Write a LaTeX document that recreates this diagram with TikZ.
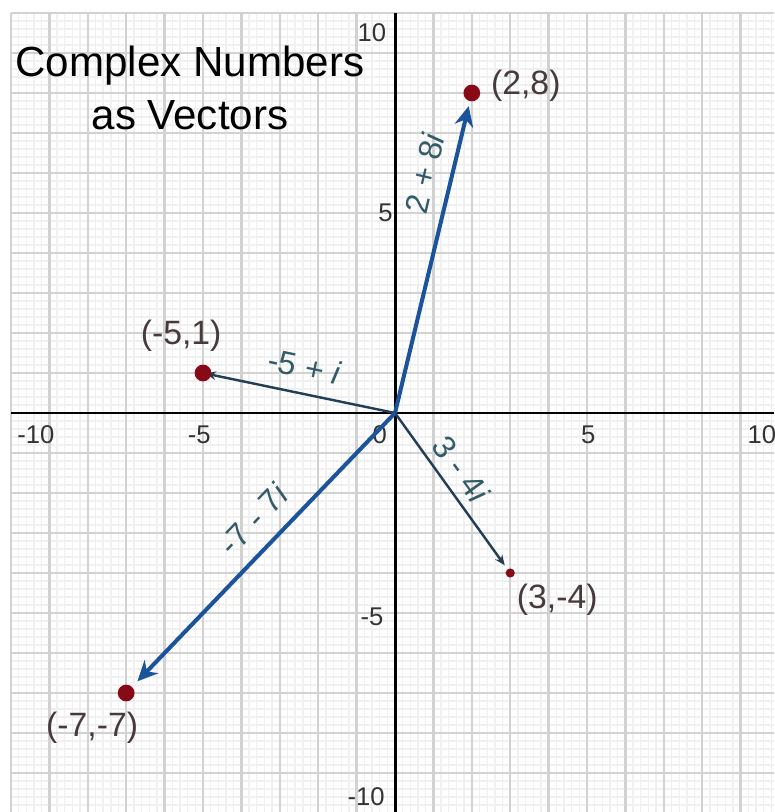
\documentclass[tikz,border=0pt]{standalone}
\usepackage{fontspec}
\setmainfont{Liberation Sans}
\usetikzlibrary{positioning, arrows.meta, calc}

\definecolor{vecblue}{RGB}{28,84,155}
\definecolor{vecdark}{RGB}{34,62,86}
\definecolor{dotred}{RGB}{135,10,22}
\definecolor{ptlab}{RGB}{72,58,58}
\definecolor{veclab}{RGB}{52,92,104}

\begin{document}
\begin{tikzpicture}[x=0.5cm, y=0.5208cm,
    dot/.style={circle, fill=dotred, inner sep=0pt, minimum size=6.2pt},
    vec/.style={vecblue, line width=1.5pt, -{Stealth[length=7.5pt, width=7pt]}},
    thinvec/.style={vecdark, line width=0.9pt, -{Stealth[length=3.8pt, width=3.2pt]}},
    ptlabel/.style={text=ptlab, font=\fontsize{12.5}{13}\selectfont},
    veclabel/.style={text=veclab, font=\fontsize{12}{12}\selectfont, sloped},
    ticklabel/.style={text=black!80, font=\fontsize{9.5}{10}\selectfont}]
    \useasboundingbox (-10.286,-9.975) rectangle (9.870,10.325);
    % grid and axes
    \draw[gray!12, line width=0.5pt] (-10,-9.975) grid[step=0.2] (9.87,10);
    \draw[gray!35, line width=0.9pt] (-10,-9.975) grid[step=1] (9.87,10);
    \draw[black, line width=1.1pt] (-10,0) -- (9.87,0);
    \draw[black, line width=1.1pt] (0,-9.975) -- (0,10);
    \foreach \x/\t [count=\i] in {-9.35/-10, -5.1/-5, -0.4/0, 5.03/5, 9.55/10} {
        \node[ticklabel] (xl\i) at (\x,-0.55) {\t};
    }
    \foreach \y/\t/\x [count=\i] in {9.5/10/-0.6, 5/5/-0.25, -5.1/-5/-0.6, -9.6/-10/-0.75} {
        \node[ticklabel] (yl\i) at (\x,\y) {\t};
    }
    \node[font=\fontsize{15.6}{19.6}\selectfont, align=center] (title) at (-5.34,8.12)
        {Complex Numbers\\as Vectors};
    % vectors
    \coordinate (o) at (0,0);
    \coordinate (z1) at (2,8);
    \coordinate (z2) at (-5,1);
    \coordinate (z3) at (3,-4);
    \coordinate (z4) at (-7,-7);
    \draw[vec, shorten >=5pt] (o) -- (z1)
        node[veclabel, pos=0.73, above=1.6pt] {2 + 8\textit{i}};
    \draw[thinvec, shorten >=1pt] (o) -- (z2)
        node[veclabel, pos=0.5, above=1.8pt] {-5 + \textit{i}};
    \draw[thinvec, shorten >=3.5pt] (o) -- (z3)
        node[veclabel, pos=0.43, above=-0.5pt] {3 - 4\textit{i}};
    \draw[vec, shorten >=6pt] (o) -- (z4)
        node[veclabel, pos=0.45, above=2.2pt] {-7 - 7\textit{i}};
    % points
    \foreach \i in {1,2,4} {
        \node[dot] (p\i) at (z\i) {};
    }
    \node[dot, minimum size=3.4pt] (p3) at (z3) {};
    \node[ptlabel] (l1) at ($(p1)+(20pt,2.6pt)$) {(2,8)};
    \node[ptlabel] (l2) at ($(p2)+(-8.1pt,13.7pt)$) {(-5,1)};
    \node[ptlabel] (l3) at ($(p3)+(17.4pt,-10pt)$) {(3,-4)};
    \node[ptlabel] (l4) at ($(p4)+(-12.6pt,-13pt)$) {(-7,-7)};
\end{tikzpicture}
\end{document}
